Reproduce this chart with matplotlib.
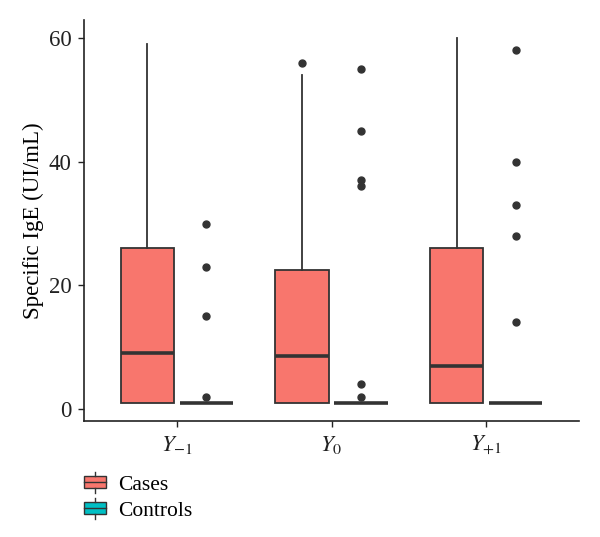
import matplotlib.pyplot as plt
from matplotlib.legend_handler import HandlerBase
from matplotlib.patches import Rectangle
from matplotlib.lines import Line2D

plt.rcParams['font.family'] = ['Liberation Serif', 'DejaVu Serif']
plt.rcParams['mathtext.fontset'] = 'stix'

groups = [r'$Y_{-1}$', r'$Y_0$', r'$Y_{+1}$']

# cases: q1, median, q3, lower whisker, upper whisker, outliers
cases_q1 = [1, 1, 1]
cases_med = [9, 8.5, 7]
cases_q3 = [26, 22.5, 26]
cases_lo = [1, 1, 1]
cases_hi = [59, 54, 60]
cases_out = [[], [56], []]

# controls: everything at 1 except the outliers
ctrl_q1 = [1, 1, 1]
ctrl_med = [1, 1, 1]
ctrl_q3 = [1, 1, 1]
ctrl_lo = [1, 1, 1]
ctrl_hi = [1, 1, 1]
ctrl_out = [[30, 23, 15, 2], [55, 45, 37, 36, 4, 2], [58, 40, 33, 28, 14]]

case_col = '#F8766D'
ctrl_col = '#00BFC4'
edge = '#333333'


def make_stats(q1, med, q3, lo, hi, out):
    return [dict(q1=a, med=b, q3=c, whislo=d, whishi=e, fliers=f)
            for a, b, c, d, e, f in zip(q1, med, q3, lo, hi, out)]


fig = plt.figure(figsize=(6, 5.37), dpi=100)
ax = fig.add_axes([0.14, 0.216, 0.825, 0.747])

pos = [1, 2, 3]
common = dict(widths=0.345, showcaps=False, patch_artist=True,
              boxprops=dict(edgecolor=edge, linewidth=1.3),
              medianprops=dict(color=edge, linewidth=2.6),
              whiskerprops=dict(color=edge, linewidth=1.3),
              flierprops=dict(marker='o', markerfacecolor=edge, markeredgecolor=edge,
                              markersize=5))

b1 = ax.bxp(make_stats(cases_q1, cases_med, cases_q3, cases_lo, cases_hi, cases_out),
            positions=[p - 0.19 for p in pos], **common)
for bx in b1['boxes']:
    bx.set_facecolor(case_col)
b2 = ax.bxp(make_stats(ctrl_q1, ctrl_med, ctrl_q3, ctrl_lo, ctrl_hi, ctrl_out),
            positions=[p + 0.19 for p in pos], **common)
for bx in b2['boxes']:
    bx.set_facecolor(ctrl_col)

ax.set_xlim(0.4, 3.6)
ax.set_ylim(-1.95, 62.95)
ax.set_xticks(pos)
ax.set_xticklabels(groups, fontsize=17)
ax.set_yticks([0, 20, 40, 60])
ax.tick_params(labelsize=16.5, colors='#222222', length=4, width=1, pad=5)
ax.set_ylabel('Specific IgE (UI/mL)', fontsize=16.5, labelpad=3)
for s in ['top', 'right']:
    ax.spines[s].set_visible(False)
for s in ['left', 'bottom']:
    ax.spines[s].set_color('#222222')
    ax.spines[s].set_linewidth(1.2)


class BoxHandler(HandlerBase):
    def create_artists(self, legend, orig, xd, yd, w, h, fontsize, trans):
        fc = orig.get_facecolor()
        cx = xd + w / 2
        r = Rectangle((xd, yd + h * 0.1), w, h * 0.8,
                      facecolor=fc, edgecolor=edge, linewidth=1, transform=trans)
        m = Line2D([xd, xd + w], [yd + h / 2, yd + h / 2],
                   color=edge, linewidth=1, transform=trans)
        t1 = Line2D([cx, cx], [yd + h * 0.9, yd + h * 1.2], color=edge, linewidth=1, transform=trans)
        t2 = Line2D([cx, cx], [yd - h * 0.2, yd + h * 0.1], color=edge, linewidth=1, transform=trans)
        return [r, m, t1, t2]


handles = [Rectangle((0, 0), 1, 1, facecolor=case_col),
           Rectangle((0, 0), 1, 1, facecolor=ctrl_col)]
fig.legend(handles, ['Cases', 'Controls'], loc='upper left',
           bbox_to_anchor=(0.14, 0.116), frameon=False, fontsize=15.5,
           handler_map={Rectangle: BoxHandler()}, handlelength=1.0,
           handleheight=0.7, handletextpad=0.6, labelspacing=0.28,
           borderaxespad=0, borderpad=0)

fig.savefig('out.png', dpi=100)
